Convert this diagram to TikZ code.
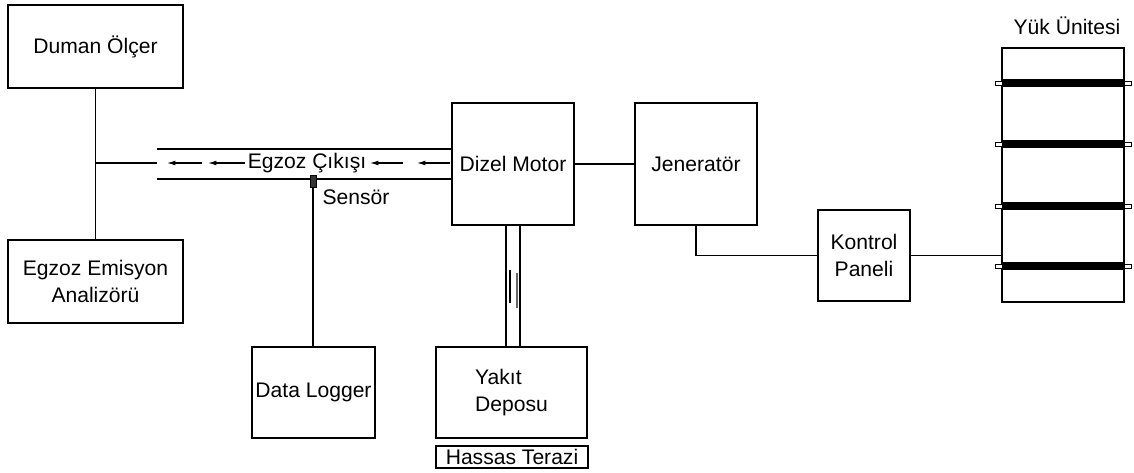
\documentclass[tikz,border=0pt]{standalone}
\usepackage{fontspec}
\setmainfont{Liberation Sans}
\usetikzlibrary{arrows.meta, positioning, calc}
\tikzset{
  unitbox/.style={
    rectangle, draw=black, line width=1pt, inner sep=0pt,
    text centered, font=\fontsize{15}{19}\selectfont
  },
  lbl/.style={inner sep=1pt, font=\fontsize{15}{19}\selectfont},
  link/.style={line width=1pt, color=black},
  pipeline/.style={line width=1pt, color=black},
  flowarrow/.style={-{Latex[length=6pt, width=3.5pt]}, line width=0.8pt},
  sensorbox/.style={
    rectangle, draw=black, fill=black!80, line width=0.6pt,
    minimum width=0.15cm, minimum height=0.3cm, inner sep=0pt
  },
}
\begin{document}
\begin{tikzpicture}[x=0.025cm, y=-0.025cm]
  \useasboundingbox (0,0) rectangle (1134,473);

  % measuring units
  \node[unitbox, minimum width=4.375cm, minimum height=2.075cm] (duman) at (95.5,46.5) {Duman Ölçer};
  \node[unitbox, minimum width=4.375cm, minimum height=2.075cm, align=center] (emisyon) at (95.5,281.5) {Egzoz Emisyon\\Analizörü};
  \node[unitbox, minimum width=3.075cm, minimum height=2.275cm] (logger) at (313.5,392.5) {Data Logger};

  % engine, generator, load
  \node[unitbox, minimum width=3.05cm, minimum height=3.05cm] (dizel) at (513,164) {Dizel Motor};
  \node[unitbox, minimum width=3.05cm, minimum height=3.05cm] (jen) at (696,164) {Jeneratör};
  \node[unitbox, minimum width=2.3cm, minimum height=2.275cm, align=center] (kontrol) at (864,255.5) {Kontrol\\Paneli};
  \node[unitbox, minimum width=3.05cm, minimum height=6.35cm] (yuk) at (1063,175) {};
  \node[lbl] (yuklabel) at (1067,26) {Yük Ünitesi};

  % fuel side
  \node[unitbox, minimum width=3.775cm, minimum height=2.275cm, align=left] (yakit) at (511.5,392.5) {Yakıt\\Deposu};
  \node[unitbox, minimum width=3.8cm, minimum height=0.55cm] (terazi) at (512,457) {Hassas Terazi};

  % exhaust pipe
  \coordinate (pipeend) at (157,163);
  \draw[pipeline] ($(pipeend)+(0,-14)$) -- ($(dizel.west)+(0,-15)$);
  \draw[pipeline] ($(pipeend)+(0,16)$) -- ($(dizel.west)+(0,15)$);
  \node[lbl] (egzoz) at (307,163) {Egzoz Çıkışı};
  \foreach \a/\b in {202/167, 245/208, 403/370, 450/417}
    \draw[flowarrow] (\a,163) -- (\b,163);

  \draw[link] (duman.south) -- (emisyon.north);
  \draw[link] (duman.south |- pipeend) -- (pipeend);

  % sensor
  \node[sensorbox] (sensor) at (313,181) {};
  \node[lbl] (sensorlabel) at (356,197) {Sensör};
  \draw[link] (sensor.south) -- (sensor.south |- logger.north);

  % fuel line
  \coordinate (fuelL) at ($(dizel.south)+(-7,0)$);
  \coordinate (fuelR) at ($(dizel.south)+(7,0)$);
  \draw[pipeline] (fuelL) -- (fuelL |- yakit.north);
  \draw[pipeline] (fuelR) -- (fuelR |- yakit.north);
  \draw[line width=1.6pt] (510,270) -- (510,303);
  \draw[line width=1.4pt, black!60] (517,273) -- (517,308);

  % electrical links
  \draw[link] (dizel.east) -- (jen.west);
  \draw[link] (jen.south) |- (kontrol.west);
  \draw[link] (kontrol.east) -- (kontrol.east -| yuk.west);

  % load bars
  \foreach \y in {83,144,206,266} {
    \fill[black] (1002,{\y-4.2}) rectangle (1124,{\y+4.2});
    \draw[line width=0.6pt, fill=white] (995,{\y-2}) rectangle (1002,{\y+2});
    \draw[line width=0.6pt, fill=white] (1124,{\y-2}) rectangle (1131,{\y+2});
  }
\end{tikzpicture}
\end{document}
